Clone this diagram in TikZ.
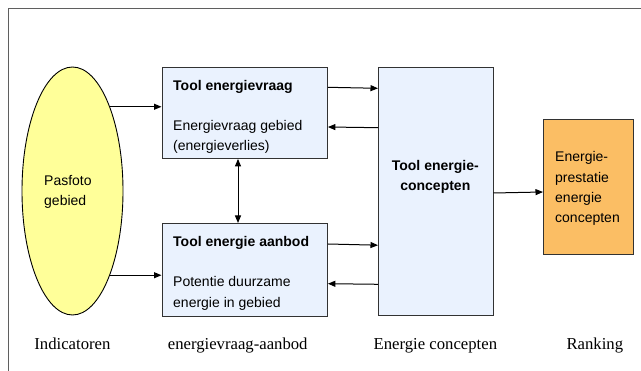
\documentclass[tikz,border=0pt]{standalone}
\usepackage{fontspec}
\setmainfont{Liberation Serif}
\setsansfont{Liberation Sans}
\usetikzlibrary{arrows.meta,shapes.geometric}
\definecolor{boxblue}{RGB}{234,242,254}
\definecolor{boxline}{RGB}{50,50,50}
\definecolor{pasyellow}{RGB}{255,255,153}
\definecolor{rankorange}{RGB}{251,190,100}
\definecolor{framegray}{RGB}{95,95,95}
\begin{document}
\begin{tikzpicture}[x=1pt,y=-1pt,
  box/.style={draw=boxline, fill=boxblue, line width=0.9pt, inner sep=0pt, anchor=north west},
  txt/.style={font=\sffamily\fontsize{14}{20}\selectfont, inner sep=0pt, anchor=base west},
  btxt/.style={font=\sffamily\bfseries\fontsize{14}{20}\selectfont, inner sep=0pt},
  lbl/.style={font=\fontsize{16.7}{20}\selectfont, inner sep=0pt, anchor=base},
  arr/.style={-{Triangle[length=7.5pt,width=6pt]}, line width=1pt},
  darr/.style={{Triangle[length=7.5pt,width=6pt]}-{Triangle[length=7.5pt,width=6pt]}, line width=1pt}]
\useasboundingbox (0,0) rectangle (641,371);
% outer frame (left and top edges)
\draw[framegray, line width=1.3pt] (8.6,371) -- (8.6,8.3) -- (641,8.3);

% indicator ellipse
\node[ellipse, draw=black, line width=0.9pt, fill=pasyellow, minimum width=101pt, minimum height=248pt, inner sep=0pt] (pas) at (72.5,191) {};
\node[txt] (pas1) at (44,185.3) {Pasfoto};
\node[txt] (pas2) at (44,205.7) {gebied};

% demand tool
\node[box, minimum width=165.5pt, minimum height=91pt] (b1) at (161.5,67) {};
\node[btxt, anchor=base west] (b1t) at (173,90.5) {Tool energievraag};
\node[txt] (b1a) at (173,130.5) {Energievraag gebied};
\node[txt] (b1b) at (173,151) {(energieverlies)};

% supply tool
\node[box, minimum width=165.5pt, minimum height=93pt] (b2) at (161.5,223) {};
\node[btxt, anchor=base west] (b2t) at (173,246.6) {Tool energie aanbod};
\node[txt] (b2a) at (173,287) {Potentie duurzame};
\node[txt] (b2b) at (173,307.5) {energie in gebied};

% concepts tool
\node[box, minimum width=114.6pt, minimum height=248pt] (b3) at (378,67) {};
\node[btxt, anchor=base] (b3a) at (435.3,170.7) {Tool energie-};
\node[btxt, anchor=base] (b3b) at (435.3,190.5) {concepten};

% ranking result
\node[box, fill=rankorange, minimum width=90pt, minimum height=135pt] (b4) at (543,119) {};
\node[txt] (b4a) at (555,162) {Energie-};
\node[txt] (b4b) at (555,182.3) {prestatie};
\node[txt] (b4c) at (555,202.6) {energie};
\node[txt] (b4d) at (555,222.8) {concepten};

% connectors
\draw[arr] (pas.66.6) -- (pas.66.6 -| b1.west);
\draw[arr] (pas.-66.6) -- (pas.-66.6 -| b2.west);
\draw[arr] (b1.east |- 0,87.3) -- (b3.west |- 0,88.3);
\draw[arr] (b3.west |- 0,127.7) -- (b1.east |- 0,127);
\draw[arr] (b2.east |- 0,244) -- (b3.west |- 0,245.2);
\draw[arr] (b3.west |- 0,284.3) -- (b2.east |- 0,283.7);
\draw[darr] (b1.south -| 238,0) -- (b2.north -| 238,0);
\draw[arr] (b3.east |- 0,193) -- (b4.west |- 0,192);

% column captions
\node[lbl] (c1) at (72.4,350) {Indicatoren};
\node[lbl] (c2) at (237.7,350) {energievraag-aanbod};
\node[lbl] (c3) at (435.4,350) {Energie concepten};
\node[lbl] (c4) at (594.8,350) {Ranking};
\end{tikzpicture}
\end{document}
